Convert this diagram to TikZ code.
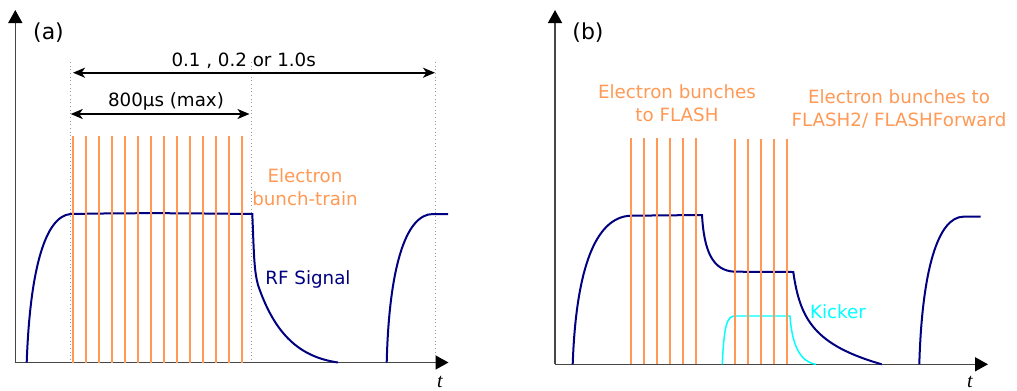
\documentclass[tikz,border=0pt]{standalone}
\usepackage{fontspec}
\setmainfont{DejaVu Sans}
\newfontfamily\serifit{Liberation Serif}
\usetikzlibrary{arrows.meta}
\definecolor{bunch}{RGB}{255,153,85}
\definecolor{rf}{RGB}{0,0,128}
\definecolor{kick}{RGB}{0,255,255}
\definecolor{axisgray}{RGB}{70,70,70}
\begin{document}
\begin{tikzpicture}[x=0.75pt,y=-0.75pt,
  axisline/.style={draw=axisgray,line width=1.1pt,-{Triangle[length=9.75pt,width=10.5pt,color=black]}},
  dimline/.style={draw=black,line width=1.3pt,{Stealth[length=9pt,width=7.5pt,inset=2.5pt]}-{Stealth[length=9pt,width=7.5pt,inset=2.5pt]}},
  guide/.style={draw=gray!80,line width=0.75pt,dotted},
  bunchline/.style={draw=bunch,line width=1.5pt},
  rfline/.style={draw=rf,line width=1.5pt},
  kickline/.style={draw=kick,line width=1.1pt},
  lbl/.style={inner sep=0pt,font=\fontsize{13.7}{17}\selectfont},
  panellbl/.style={inner sep=0pt,font=\fontsize{16.5}{19}\selectfont},
  tlbl/.style={inner sep=0pt,font=\fontsize{15}{18}\serifit\itshape},
]
\useasboundingbox (0,0) rectangle (1017,390);

% ---------------- panel (a) ----------------
\coordinate (oa) at (15.3,362.5);
\coordinate (ya) at (15.3,10);
\coordinate (xa) at (448.5,362.5);
\draw[axisline] (oa) -- (ya);
\draw[axisline] (oa) -- (xa);
\node[panellbl] (pa) at (48.5,33) {(a)};
\node[tlbl,anchor=base] (ta) at (440,387.5) {t};

% guides
\coordinate (g1t) at (70.7,62);  \coordinate (g1b) at (70.7,362.5);
\coordinate (g2t) at (251.3,62); \coordinate (g2b) at (251.3,362.5);
\coordinate (g3t) at (435,62);   \coordinate (g3b) at (435,362.5);
\draw[guide] (g1t) -- (g1b);
\draw[guide] (g2t) -- (g2b);
\draw[guide] (g3t) -- (g3b);

% dimension arrows
\coordinate (d1l) at (73,72.7);  \coordinate (d1r) at (435,72.7);
\coordinate (d2l) at (70.7,114); \coordinate (d2r) at (249.5,114);
\draw[dimline] (d1l) -- (d1r);
\draw[dimline] (d2l) -- (d2r);
\node[lbl,anchor=base] (period) at (243.7,66) {0.1 , 0.2 or 1.0s};
\node[lbl,anchor=base] (train) at (166,106.7) {800µs (max)};

% RF signal (a)
\draw[rfline] (26.7,362.5) .. controls (30,270) and (45,216) .. (70.7,214)
  .. controls (150,212.5) and (200,213.5) .. (252.3,214)
  .. controls (254,255) and (254,270) .. (258,285)
  .. controls (275,335) and (300,357) .. (338,362.5);
\draw[rfline] (386.7,362.5) .. controls (389,270) and (405,214) .. (433,214) -- (448,214);

% bunches (a)
\foreach \i in {0,...,13}
  \draw[bunchline] ({73.3+13*\i},136) -- ({73.3+13*\i},362.5);

\node[lbl,text=bunch,align=center,anchor=base] (ebt) at (305,205.5) {Electron\\bunch-train};
\node[lbl,text=rf,anchor=base] (rfa) at (308,284) {RF Signal};

% ---------------- panel (b) ----------------
\coordinate (ob) at (555,364.3);
\coordinate (yb) at (555,10);
\coordinate (xb) at (988,364.3);
\draw[axisline] (ob) -- (yb);
\draw[axisline] (ob) -- (xb);
\node[panellbl] (pb) at (588,33) {(b)};
\node[tlbl,anchor=base] (tb) at (970,387.5) {t};

% RF signal (b)
\draw[rfline] (572.7,364.3) .. controls (576,270) and (595,217) .. (630.7,215.7)
  -- (702,215)
  .. controls (704,250) and (712,271) .. (735,271.7)
  -- (793.3,272)
  .. controls (800,320) and (815,345) .. (881.7,364.3);
\draw[rfline] (919.3,364.3) .. controls (922,270) and (938,217) .. (963.3,216.7) -- (980.7,216.7);

% kicker
\draw[kickline] (722.3,364.3) .. controls (724,325) and (727,316) .. (735,316)
  -- (790,316) .. controls (792,345) and (800,362) .. (816,364.3);

% bunches (b)
\foreach \x in {630.7,643.7,656.7,669.7,682.7,695.7}
  \draw[bunchline] (\x,138) -- (\x,364.3);
\foreach \x in {735,748,761,774,787}
  \draw[bunchline] (\x,139) -- (\x,364.3);

\node[lbl,text=bunch,align=center,anchor=base] (ebf) at (677,121) {Electron bunches\\to FLASH};
\node[lbl,text=bunch,align=center,anchor=base] (ebf2) at (899,126) {Electron bunches to\\FLASH2/ FLASHForward};
\node[lbl,text=kick,anchor=base] (kk) at (838,318.3) {Kicker};
\end{tikzpicture}
\end{document}
